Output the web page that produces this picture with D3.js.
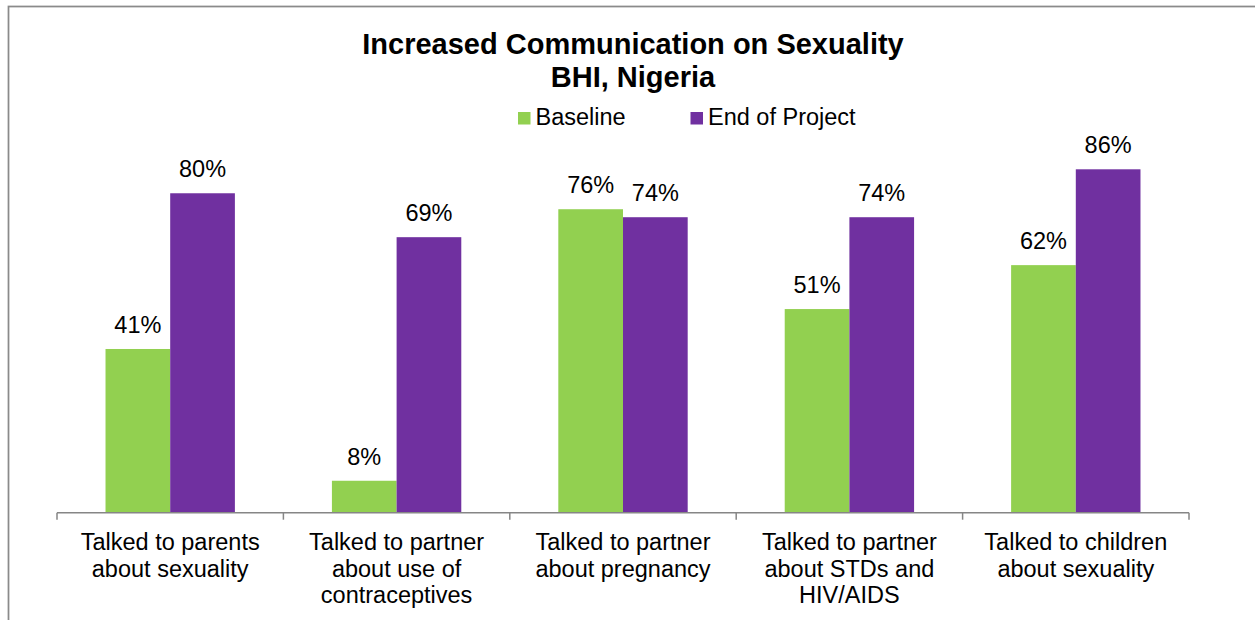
<!DOCTYPE html>
<html>
<head>
<meta charset="utf-8">
<script src="https://cdn.jsdelivr.net/npm/d3@7"></script>
<style>
  html, body { margin: 0; padding: 0; background: #ffffff; }
  svg { display: block; }
  text { font-family: "Liberation Sans", Arial, sans-serif; fill: #000; }
</style>
</head>
<body>
<svg id="chart" width="1255" height="620"></svg>
<script>
// Chart data
const categories = [
  ["Talked to parents", "about sexuality"],
  ["Talked to partner", "about use of", "contraceptives"],
  ["Talked to partner", "about pregnancy"],
  ["Talked to partner", "about STDs and", "HIV/AIDS"],
  ["Talked to children", "about sexuality"]
];
const seriesNames = ["Baseline", "End of Project"];
const baseline = [41, 8, 76, 51, 62];
const endOfProject = [80, 69, 74, 74, 86];
const titleLines = ["Increased Communication on Sexuality", "BHI, Nigeria"];

const colors = { "Baseline": "#92D050", "End of Project": "#7030A0" };
const values = { "Baseline": baseline, "End of Project": endOfProject };

const svg = d3.select("#chart");

// Outer chart frame
svg.append("rect")
  .attr("x", 8.5).attr("y", 6.5)
  .attr("width", 1400).attr("height", 800)
  .attr("fill", "none")
  .attr("stroke", "#8a8a8a")
  .attr("stroke-width", 1.75);

const plot = { left: 57, right: 1189, bottom: 512.7, top: 113.4 };

const x0 = d3.scaleBand()
  .domain(d3.range(categories.length))
  .range([plot.left, plot.right])
  .paddingInner(0).paddingOuter(0);

const x1 = d3.scaleBand()
  .domain(seriesNames)
  .range([0, x0.bandwidth()])
  .paddingInner(0).paddingOuter(0.75);

const y = d3.scaleLinear().domain([0, 100]).range([plot.bottom, plot.top]);

// Bars
const groups = svg.append("g").selectAll("g")
  .data(d3.range(categories.length))
  .join("g")
  .attr("transform", i => `translate(${x0(i)},0)`);

groups.selectAll("rect")
  .data(i => seriesNames.map(s => ({ s, v: values[s][i] })))
  .join("rect")
  .attr("x", d => x1(d.s))
  .attr("y", d => y(d.v))
  .attr("width", x1.bandwidth())
  .attr("height", d => y(0) - y(d.v))
  .attr("fill", d => colors[d.s]);

// Value labels
groups.selectAll("text.val")
  .data(i => seriesNames.map(s => ({ s, v: values[s][i] })))
  .join("text")
  .attr("class", "val")
  .attr("x", d => x1(d.s) + x1.bandwidth() / 2)
  .attr("y", d => y(d.v) - 16)
  .attr("text-anchor", "middle")
  .style("font-size", "23.5px")
  .text(d => d.v + "%");

// Category axis with tick marks at group boundaries
const axisG = svg.append("g").attr("class", "xaxis");
axisG.append("line")
  .attr("x1", plot.left).attr("x2", plot.right)
  .attr("y1", plot.bottom).attr("y2", plot.bottom)
  .attr("stroke", "#868686").attr("stroke-width", 1.5);

const boundaries = d3.range(categories.length + 1).map(i =>
  i < categories.length ? x0(i) : x0(categories.length - 1) + x0.bandwidth());
axisG.selectAll("line.tick")
  .data(boundaries)
  .join("line")
  .attr("class", "tick")
  .attr("x1", d => d).attr("x2", d => d)
  .attr("y1", plot.bottom).attr("y2", plot.bottom + 7)
  .attr("stroke", "#868686").attr("stroke-width", 1.5);

const catLabels = axisG.selectAll("text.cat")
  .data(categories)
  .join("text")
  .attr("class", "cat")
  .attr("text-anchor", "middle")
  .style("font-size", "23.5px");

catLabels.each(function(lines, i) {
  const t = d3.select(this);
  const cx = x0(i) + x0.bandwidth() / 2;
  lines.forEach((ln, k) => {
    t.append("tspan")
      .attr("x", cx)
      .attr("y", 550 + k * 26.5)
      .text(ln);
  });
});

// Title
svg.append("text")
  .attr("text-anchor", "middle")
  .style("font-size", "29px")
  .style("font-weight", "bold")
  .selectAll("tspan")
  .data(titleLines)
  .join("tspan")
  .attr("x", 633)
  .attr("y", (d, i) => 53.5 + i * 33)
  .text(d => d);

// Legend
const legendItems = [
  { name: "Baseline", x: 518 },
  { name: "End of Project", x: 690.5 }
];
const legend = svg.append("g").selectAll("g")
  .data(legendItems)
  .join("g")
  .attr("transform", d => `translate(${d.x},0)`);
legend.append("rect")
  .attr("x", 0).attr("y", 112)
  .attr("width", 12.5).attr("height", 12.5)
  .attr("fill", d => colors[d.name]);
legend.append("text")
  .attr("x", 17.5).attr("y", 125)
  .style("font-size", "23.5px")
  .text(d => d.name);
</script>
</body>
</html>
